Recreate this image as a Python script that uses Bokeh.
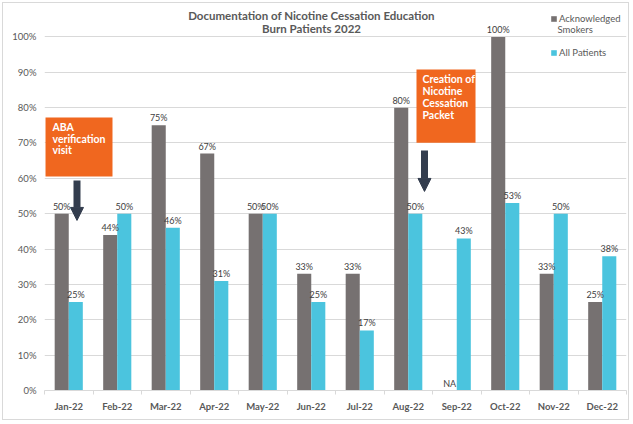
from bokeh.plotting import figure
from bokeh.models import (ColumnDataSource, Range1d, FixedTicker, LabelSet, Label,
                          BoxAnnotation, Arrow, NormalHead, Legend, LegendItem)
from bokeh.core.properties import value
from bokeh.embed import file_html
from bokeh.resources import INLINE

# Monthly documentation rates (%), burn patients 2022
months = ["Jan-22", "Feb-22", "Mar-22", "Apr-22", "May-22", "Jun-22",
          "Jul-22", "Aug-22", "Sep-22", "Oct-22", "Nov-22", "Dec-22"]
smokers = [50, 44, 75, 67, 50, 33, 33, 80, None, 100, 33, 25]
all_patients = [25, 50, 46, 31, 50, 25, 17, 50, 43, 53, 50, 38]
y_ticks = [0, 10, 20, 30, 40, 50, 60, 70, 80, 90, 100]

GRAY = "#767171"
BLUE = "#4BC4DE"
ORANGE = "#F0671F"
ARROW = "#333D4E"
TEXT = "#595959"
FONT = "Lato"

idx = list(range(len(months)))
bw = 0.29
off = 0.145

src = ColumnDataSource(dict(
    x_s=[i - off for i in idx],
    x_a=[i + off for i in idx],
    s=[v if v is not None else float("nan") for v in smokers],
    s_lab_y=[v if v is not None else 0 for v in smokers],
    s_txt=[f"{v}%" if v is not None else "NA" for v in smokers],
    a=all_patients,
    a_txt=[f"{v}%" for v in all_patients],
))

p = figure(width=627, height=418, output_backend="svg", toolbar_location=None,
           x_range=Range1d(-0.5, len(months) - 0.5), y_range=Range1d(0, 109.45),
           min_border_left=41, min_border_right=4, min_border_top=0,
           min_border_bottom=31, outline_line_color=None,
           background_fill_color="white", border_fill_color="white")
# thin chart-area border around the whole figure
p.styles = {"margin": "2px", "border": "1px solid #D9D9D9"}

r_s = p.vbar(x="x_s", top="s", width=bw, source=src, fill_color=GRAY, line_color=None)
r_a = p.vbar(x="x_a", top="a", width=bw, source=src, fill_color=BLUE, line_color=None)

# value labels
for xf, yf, tf in (("x_s", "s_lab_y", "s_txt"), ("x_a", "a", "a_txt")):
    p.add_layout(LabelSet(x=xf, y=yf, text=tf, source=src, y_offset=2,
                          text_align="center", text_baseline="bottom",
                          text_font=value(FONT), text_font_size=value("9px"),
                          text_color="#404040"))

# axes
p.xaxis.ticker = FixedTicker(ticks=idx, minor_ticks=[i - 0.5 for i in range(len(months) + 1)])
p.xaxis.major_label_overrides = {i: m for i, m in zip(idx, months)}
p.xaxis.axis_line_color = "#D9D9D9"
p.xaxis.major_tick_line_color = None
p.xaxis.major_tick_out = 0
p.xaxis.major_tick_in = 0
p.xaxis.minor_tick_line_color = "#D9D9D9"
p.xaxis.minor_tick_out = 4
p.xaxis.minor_tick_in = 0
p.xaxis.major_label_standoff = 6
p.xaxis.major_label_text_font = FONT
p.xaxis.major_label_text_font_style = "bold"
p.xaxis.major_label_text_font_size = "9.5px"
p.xaxis.major_label_text_color = TEXT

p.yaxis.ticker = FixedTicker(ticks=y_ticks, minor_ticks=[])
p.yaxis.major_label_overrides = {t: f"{t}%" for t in y_ticks}
p.yaxis.axis_line_color = None
p.yaxis.major_tick_line_color = None
p.yaxis.major_tick_out = 0
p.yaxis.major_tick_in = 0
p.yaxis.minor_tick_line_color = None
p.yaxis.major_label_standoff = 8
p.yaxis.major_label_text_font = FONT
p.yaxis.major_label_text_font_size = "9.5px"
p.yaxis.major_label_text_color = TEXT

p.xgrid.visible = False
p.ygrid.grid_line_color = "#D9D9D9"
p.ygrid.ticker = FixedTicker(ticks=y_ticks)

# title
for txt, ty in (("Documentation of Nicotine Cessation Education", 106.05),
                ("Burn Patients 2022", 102.4)):
    p.add_layout(Label(x=5.005, y=ty, text=txt, text_align="center",
                       text_baseline="middle", text_font=FONT,
                       text_font_style="bold", text_font_size="11.5px",
                       text_color=TEXT))

# callout boxes with their notes
def callout(left, right, top, bottom, lines, tx, ys):
    p.add_layout(BoxAnnotation(left=left, right=right, top=top, bottom=bottom,
                               fill_color=ORANGE, fill_alpha=1, line_color=None))
    for line, ly in zip(lines, ys):
        p.add_layout(Label(x=tx, y=ly, text=line, text_align="left",
                           text_baseline="middle", text_font=FONT,
                           text_font_style="bold", text_font_size="10.5px",
                           text_color="white", level="overlay"))

callout(-0.479, 0.902, 77.2, 60.5, ["ABA", "verification", "visit"],
        -0.335, [74.5, 71.2, 67.9])
callout(7.170, 8.387, 90.8, 70.1, ["Creation of", "Nicotine", "Cessation", "Packet"],
        7.294, [88.0, 84.6, 81.2, 77.9])

for ax, y0, y1 in ((0.170, 59.4, 48.1), (7.335, 67.9, 56.3)):
    p.add_layout(Arrow(end=NormalHead(size=13, fill_color=ARROW, line_color=ARROW,
                                      line_width=1),
                       x_start=ax, y_start=y0, x_end=ax, y_end=y1,
                       line_color=ARROW, line_width=7))

# legend (second line of the first entry added as its own label)
legend = Legend(items=[LegendItem(label="Acknowledged", renderers=[r_s]),
                       LegendItem(label="All Patients", renderers=[r_a])],
                location=(506, 332), padding=0, margin=0, spacing=23,
                glyph_width=7, glyph_height=7, label_standoff=2, label_height=7,
                label_text_font=FONT, label_text_font_size="9.5px",
                label_text_color=TEXT, border_line_color=None,
                background_fill_alpha=0)
p.add_layout(legend)
p.add_layout(Label(x=10.077, y=102.1, text="Smokers", text_align="left",
                   text_baseline="middle", text_font=FONT, text_font_size="9.5px",
                   text_color=TEXT))

open("out.html", "w").write(file_html(p, INLINE))
